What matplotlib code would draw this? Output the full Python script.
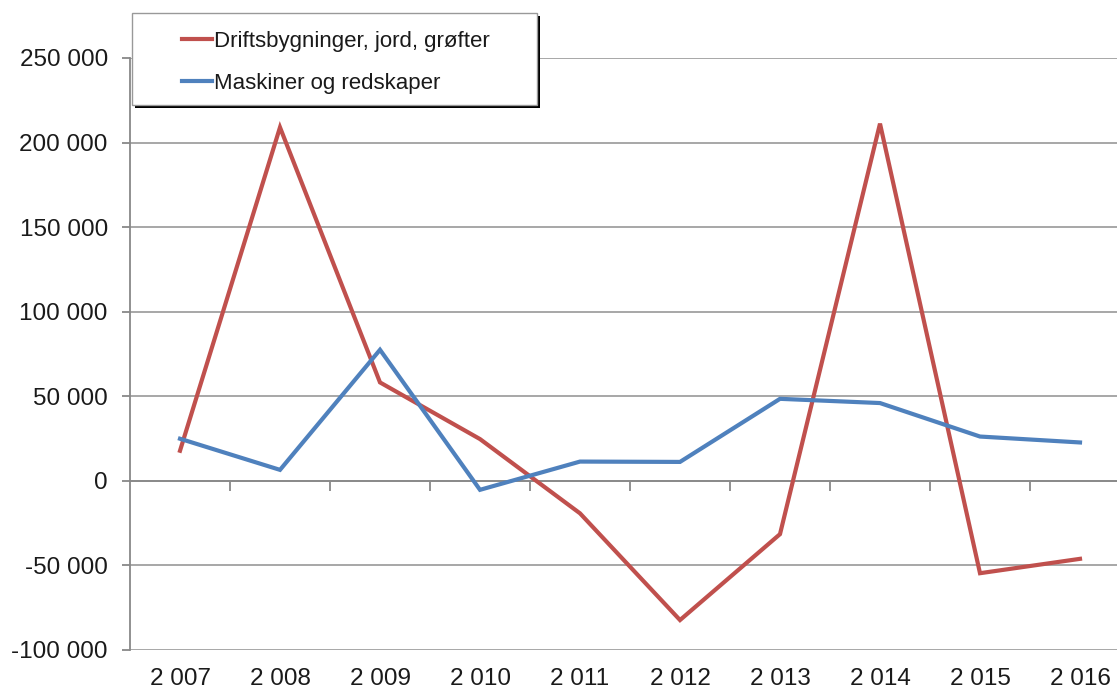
import matplotlib
matplotlib.use("Agg")
import matplotlib.pyplot as plt
from matplotlib.ticker import FuncFormatter, FixedLocator
from matplotlib.patches import Rectangle

years = [2007, 2008, 2009, 2010, 2011, 2012, 2013, 2014, 2015, 2016]
year_labels = ["2 007", "2 008", "2 009", "2 010", "2 011", "2 012", "2 013", "2 014", "2 015", "2 016"]
drifts = [17800, 209000, 58200, 24700, -19200, -82300, -31500, 211200, -54600, -46100]
maskiner = [24900, 6500, 77500, -5300, 11400, 11200, 48500, 46000, 26200, 22700]
series_names = ["Driftsbygninger, jord, grøfter", "Maskiner og redskaper"]
y_ticks = [-100000, -50000, 0, 50000, 100000, 150000, 200000, 250000]

plt.rcParams['font.family'] = ['Liberation Sans', 'DejaVu Sans']

W, H = 1117, 693
fig = plt.figure(figsize=(W / 100, H / 100), dpi=100)
ax = fig.add_axes([130 / W, 43 / H, 1000 / W, 592 / H])

x = list(range(len(years)))
red = '#C0504D'
blue = '#4F81BD'
grid_c = '#A0A0A0'

ax.plot(x, drifts, color=red, lw=3, label=series_names[0], solid_joinstyle='miter', zorder=3)
ax.plot(x, maskiner, color=blue, lw=3, label=series_names[1], solid_joinstyle='miter', zorder=3)

ax.set_xlim(-0.5, len(years) - 0.5)
ax.set_ylim(-100000, 250000)
ax.yaxis.set_major_locator(FixedLocator(y_ticks))
ax.yaxis.set_major_formatter(FuncFormatter(lambda v, p: f"{int(v):,}".replace(",", " ")))
ax.grid(axis='y', color=grid_c, lw=1.3, zorder=1)
ax.set_axisbelow(True)

for s in ['top', 'right']:
    ax.spines[s].set_visible(False)
ax.spines['left'].set_color('#888888')
ax.spines['left'].set_linewidth(1.3)
ax.spines['bottom'].set_position(('data', 0))
ax.spines['bottom'].set_color('#888888')
ax.spines['bottom'].set_linewidth(1.3)

ax.tick_params(axis='y', direction='out', length=6, width=1.3, color='#888888',
               labelsize=17.5, pad=10, labelcolor='#1a1a1a')
ax.set_xticks(x)
ax.set_xticklabels([])
ax.tick_params(axis='x', which='major', length=0)
ax.set_xticks([i + 0.5 for i in x], minor=True)
ax.tick_params(axis='x', which='minor', direction='out', length=7, width=1.3, color='#888888')

sec = ax.secondary_xaxis(0.0)
sec.set_xticks(x)
sec.set_xticklabels(year_labels)
sec.tick_params(axis='x', length=0, labelsize=17.5, pad=13, labelcolor='#1a1a1a')
sec.spines['bottom'].set_visible(False)

# legend box with shadow
x0, y0, x1, y1 = 132, 13, 537, 105
shadow = Rectangle(((x0 + 3) / W, 1 - (y1 + 3) / H), (x1 - x0) / W, (y1 - y0) / H,
                   transform=fig.transFigure, facecolor='black', edgecolor='none', zorder=5)
box = Rectangle((x0 / W, 1 - y1 / H), (x1 - x0) / W, (y1 - y0) / H,
                transform=fig.transFigure, facecolor='white', edgecolor='#999999', lw=1, zorder=6)
fig.patches.extend([shadow, box])

leg = fig.legend(loc='upper left', bbox_to_anchor=(182 / W, 1 - 31 / H), frameon=False,
                 fontsize=16, handlelength=1.35, handletextpad=0.1, labelspacing=0.95,
                 borderpad=0, borderaxespad=0)
leg.set_zorder(7)
for t in leg.get_texts():
    t.set_color('#1a1a1a')

fig.savefig('out.png', dpi=100)
